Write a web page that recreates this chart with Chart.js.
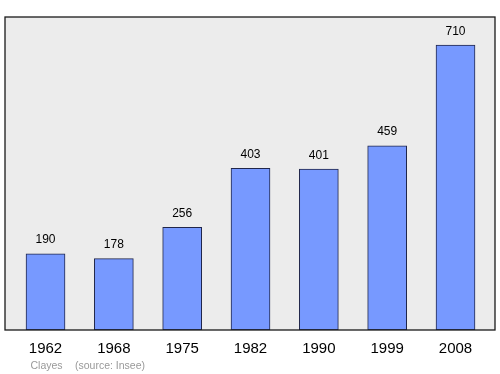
<!DOCTYPE html>
<html>
<head>
<meta charset="utf-8">
<script src="https://cdn.jsdelivr.net/npm/chart.js@4/dist/chart.umd.min.js"></script>
<style>
html,body{margin:0;padding:0;background:#fff;}
#wrap{width:500px;height:374px;position:relative;}
</style>
</head>
<body>
<div id="wrap"><canvas id="c" width="500" height="374"></canvas></div>
<script>
const years = ["1962","1968","1975","1982","1990","1999","2008"];
const population = [190,178,256,403,401,459,710];
const townName = "Clayes";
const sourceText = "(source: Insee)";

const FONT = "'Liberation Sans', Arial, sans-serif";

const decor = {
  id: 'decor',
  beforeDatasetsDraw(chart) {
    const {ctx, chartArea: a} = chart;
    ctx.save();
    ctx.fillStyle = '#ececec';
    ctx.fillRect(a.left, a.top, a.right - a.left, a.bottom - a.top);
    ctx.restore();
  },
  afterDatasetsDraw(chart) {
    const {ctx, chartArea: a, scales} = chart;
    ctx.save();
    ctx.strokeStyle = '#1a1a1a';
    ctx.lineWidth = 1.3;
    ctx.strokeRect(a.left, a.top, a.right - a.left, a.bottom - a.top);
    ctx.textAlign = 'center';
    ctx.textBaseline = 'alphabetic';
    population.forEach((v, i) => {
      const x = scales.x.getPixelForValue(i);
      const y = scales.y.getPixelForValue(v);
      ctx.fillStyle = '#000';
      ctx.font = '12px ' + FONT;
      ctx.fillText(String(v), x, y - 10.5);
      ctx.font = '15px ' + FONT;
      ctx.fillText(years[i], x, a.bottom + 23);
    });
    ctx.fillStyle = '#999';
    ctx.font = '10.5px ' + FONT;
    ctx.textAlign = 'left';
    ctx.fillText(townName, 30.5, a.bottom + 39);
    ctx.fillText(sourceText, 75, a.bottom + 39);
    ctx.restore();
  }
};

new Chart(document.getElementById('c'), {
  type: 'bar',
  data: {
    datasets: [{
      data: population.map((v, i) => ({x: i, y: v})),
      backgroundColor: '#7799ff',
      borderColor: '#20264a',
      borderWidth: 1,
      borderSkipped: false,
      barThickness: 39
    }]
  },
  options: {
    responsive: false,
    animation: false,
    events: [],
    layout: {padding: {left: 5, right: 5, top: 17, bottom: 44}},
    plugins: {legend: {display: false}, tooltip: {enabled: false}},
    scales: {
      x: {type: 'linear', min: -0.593, max: 6.578, offset: false, display: false},
      y: {min: 0, max: 780, display: false}
    }
  },
  plugins: [decor]
});
</script>
</body>
</html>
